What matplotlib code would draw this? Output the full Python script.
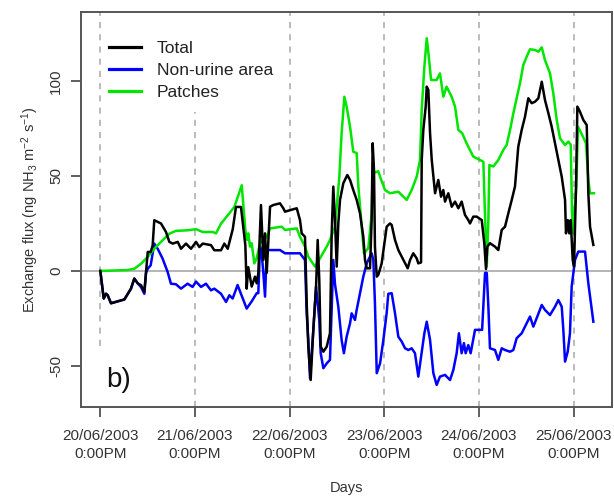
import matplotlib
matplotlib.use("Agg")
import matplotlib.pyplot as plt
import matplotlib.patches as mpatches
import numpy as np

plt.rcParams['font.family'] = ['Liberation Sans', 'DejaVu Sans']
plt.rcParams['mathtext.fontset'] = 'custom'
plt.rcParams['mathtext.rm'] = 'Liberation Sans'
plt.rcParams['mathtext.it'] = 'Liberation Sans:italic'
plt.rcParams['axes.unicode_minus'] = False

# time in days since 20/06/2003 12:00, flux in ng NH3 m-2 s-1
t_total = [0.000, 0.036, 0.060, 0.078, 0.113, 0.184, 0.254, 0.324, 0.359, 0.395, 0.430, 0.465, 0.483, 0.501,
           0.532, 0.553, 0.570, 0.641, 0.694, 0.729, 0.765, 0.818, 0.852, 0.905, 0.958, 1.011, 1.046, 1.082,
           1.169, 1.204, 1.275, 1.310, 1.346, 1.399, 1.433, 1.486, 1.532, 1.546, 1.563, 1.599, 1.634, 1.652,
           1.669, 1.697, 1.722, 1.740, 1.758, 1.793, 1.827, 1.898, 1.933, 1.951, 2.004, 2.075, 2.109, 2.127,
           2.162, 2.180, 2.197, 2.222, 2.250, 2.279, 2.296, 2.313, 2.328, 2.356, 2.392, 2.426, 2.444, 2.461,
           2.479, 2.497, 2.514, 2.532, 2.567, 2.609, 2.638, 2.672, 2.708, 2.743, 2.778, 2.796, 2.814, 2.849,
           2.866, 2.877, 2.891, 2.901, 2.920, 2.937, 2.972, 3.025, 3.060, 3.078, 3.113, 3.148, 3.184, 3.219,
           3.247, 3.272, 3.306, 3.342, 3.359, 3.388, 3.395, 3.412, 3.437, 3.448, 3.465, 3.483, 3.501, 3.536,
           3.570, 3.599, 3.623, 3.641, 3.676, 3.712, 3.747, 3.782, 3.817, 3.852, 3.887, 3.905, 3.940, 3.976,
           4.029, 4.056, 4.074, 4.088, 4.116, 4.169, 4.204, 4.240, 4.275, 4.310, 4.346, 4.380, 4.415, 4.451,
           4.486, 4.521, 4.557, 4.592, 4.627, 4.663, 4.697, 4.733, 4.768, 4.803, 4.838, 4.874, 4.909, 4.919,
           4.937, 4.954, 4.969, 4.990, 5.004, 5.025, 5.039, 5.067, 5.102, 5.138, 5.155, 5.173, 5.208]
total = [0, -14.5, -12, -12.8, -17, -16, -15, -9.3, -4, -6.5, -7.5, -11, -0.5, 10,
         10, 13.5, 26.7, 25, 20.5, 15.3, 14.4, 15.3, 11.7, 14.4, 11.7, 15.3, 12.6, 14.4,
         13.6, 10.9, 10.9, 14.4, 11.7, 22, 33.7, 33.7, 13.5, -9.3, 2, -8.2, -3, -6.5,
         -1.2, 34.7, 5.8, 19.8, -1, 33.8, 34.7, 35.6, 33, 31.2, 32, 33, 26.8, 19.8,
         18, -17, -39.8, -57.4, -31, -8.2, 16.3, -4.7, -39.8, -42.5, -39.8, -32.8, 19.8, 44.4,
         26.8, 2.3, 25, 37.4, 46.2, 50.5, 47.9, 42.6, 37.4, 30.4, 18, 5.8, 1.4, 1.4,
         26.8, 67.2, 53, 12.8, -3, -2, 4, 23.3, 25, 24.2, 16.3, 11, 7.5, 4,
         1.4, 5.8, 9.3, 6.6, 4, 4.5, 58.4, 74.2, 86.5, 97, 95.3, 72.5, 58.4, 40.9,
         47.9, 39.1, 42.6, 36.5, 40.9, 33.8, 36.5, 33, 36.5, 29.5, 26.8, 25, 28.6, 28.6,
         26.8, 14.6, 1, 12.8, 14.6, 12.8, 11, 21.6, 23.3, 30.4, 37.4, 44.4, 65.4, 74.2,
         81.2, 90.9, 88.3, 89.1, 90.9, 99.6, 90, 83, 75.9, 67.2, 58.4, 49.6, 37.4, 19.8,
         26.8, 19.8, 26.8, 5.8, 2.3, 44.4, 86.5, 83.8, 79.5, 76.8, 40.9, 23.3, 13.7]

t_nonurine = [0.000, 0.036, 0.060, 0.078, 0.113, 0.184, 0.254, 0.324, 0.359, 0.395, 0.430, 0.465, 0.483, 0.501,
              0.532, 0.570, 0.606, 0.658, 0.711, 0.746, 0.799, 0.852, 0.922, 0.975, 1.011, 1.064, 1.116, 1.169,
              1.204, 1.275, 1.328, 1.363, 1.398, 1.450, 1.486, 1.546, 1.599, 1.652, 1.669, 1.687, 1.705, 1.722,
              1.740, 1.758, 1.793, 1.898, 1.951, 2.075, 2.109, 2.162, 2.180, 2.197, 2.215, 2.250, 2.279, 2.296,
              2.313, 2.328, 2.356, 2.392, 2.426, 2.444, 2.461, 2.479, 2.514, 2.549, 2.573, 2.602, 2.638, 2.655,
              2.690, 2.708, 2.743, 2.778, 2.814, 2.866, 2.884, 2.901, 2.920, 2.955, 2.990, 3.025, 3.042, 3.078,
              3.113, 3.148, 3.184, 3.219, 3.254, 3.289, 3.324, 3.359, 3.394, 3.423, 3.448, 3.483, 3.518, 3.553,
              3.588, 3.641, 3.694, 3.729, 3.764, 3.788, 3.817, 3.841, 3.859, 3.887, 3.912, 3.958, 4.033, 4.064,
              4.082, 4.099, 4.116, 4.169, 4.204, 4.240, 4.275, 4.328, 4.363, 4.398, 4.451, 4.504, 4.539, 4.574,
              4.609, 4.663, 4.697, 4.750, 4.803, 4.838, 4.874, 4.891, 4.909, 4.937, 4.961, 4.979, 5.014, 5.049,
              5.120, 5.155, 5.208]
nonurine = [0, -14.5, -12, -12.8, -17, -16, -15, -9.3, -4, -6.5, -8.5, -12, -1, 1.2,
            3, 14.4, 11.7, 6.5, -0.5, -6.7, -7, -9.3, -6.7, -8.4, -5.6, -8.4, -6.7, -10.2,
            -9.3, -12, -16.3, -12.8, -14.5, -7.4, -12, -19.8, -16, -11.7, -11.7, 12.8, 9.3, -1.2,
            -13.5, 11, 11, 11, 9.3, 9.3, 9.3, 5.8, -22.3, -36.3, -56.5, -31, -8.2, -17,
            -25.8, -43.3, -51.2, -48.6, -46.8, -20, 5.8, -7, -18.8, -36.3, -43.3, -34.6, -27.5, -22.3,
            -25.8, -20.5, -11.7, -3, 4, 9.3, 5.8, -17, -53.8, -48.6, -36.3, -22, -12, -11.7,
            -22.3, -34.6, -37.2, -40.7, -41.6, -40.7, -43.3, -55.6, -43.3, -32.8, -26.7, -36.3, -53.8, -60,
            -55.6, -54.7, -57.4, -52.1, -43.3, -32.8, -43.3, -38, -43.3, -39, -43.3, -31, -31, -1,
            -1, -18.8, -40.7, -41.6, -46.8, -40.7, -41.6, -42.5, -41.6, -35.4, -32.8, -27.5, -24, -29.3,
            -24.9, -17.9, -20.5, -23.2, -18.8, -15.3, -18.8, -31, -47.7, -42.5, -32.8, -8.2, 5.8, 10.2,
            10.2, -6.5, -26.7]

t_patches = [0.000, 0.290, 0.361, 0.430, 0.501, 0.570, 0.659, 0.729, 0.799, 0.922, 1.011, 1.081, 1.187, 1.222,
             1.275, 1.346, 1.416, 1.494, 1.532, 1.550, 1.563, 1.581, 1.599, 1.627, 1.652, 1.687, 1.722, 1.758,
             1.793, 1.916, 1.951, 2.075, 2.109, 2.162, 2.197, 2.268, 2.321, 2.391, 2.426, 2.479, 2.525, 2.549,
             2.578, 2.602, 2.638, 2.672, 2.708, 2.726, 2.761, 2.785, 2.831, 2.866, 2.877, 2.937, 2.955, 3.007,
             3.060, 3.148, 3.201, 3.237, 3.289, 3.342, 3.377, 3.395, 3.423, 3.448, 3.466, 3.494, 3.553, 3.588,
             3.623, 3.658, 3.711, 3.747, 3.782, 3.823, 3.869, 3.940, 4.011, 4.046, 4.064, 4.082, 4.099, 4.110,
             4.152, 4.204, 4.257, 4.292, 4.328, 4.363, 4.398, 4.433, 4.468, 4.504, 4.539, 4.592, 4.627, 4.663,
             4.697, 4.750, 4.785, 4.821, 4.856, 4.909, 4.944, 4.969, 4.983, 4.995, 5.028, 5.046, 5.081, 5.130,
             5.155, 5.173, 5.215]
patches = [0, 0.5, 1.2, 3.8, 7.4, 11.7, 16.2, 19.6, 21.1, 21.4, 22, 20.5, 20.5, 19.8,
           24.9, 29.3, 33.7, 45.1, 21.6, 16.3, 19.8, 12.8, 14.6, 4, 6.7, 14.6, 16.3, 18,
           22.4, 23.3, 21.6, 22.4, 18, 12.8, 7.5, 2.3, 6.7, 12.8, 16.3, 23.3, 49.6, 72.5,
           91.7, 86.5, 75.9, 62.8, 62, 44.4, 23.3, 9.3, 12, 30, 51.4, 52.5, 49.6, 42.6,
           40.9, 41.7, 39.1, 37.4, 42.6, 49.6, 58.4, 84.7, 107.5, 122.5, 114.6, 100.5, 100.5, 104,
           91.7, 97, 91.7, 86.5, 74.2, 72.5, 67.2, 60.2, 58.4, 57.5, 28.6, 2.3, 26.8, 55.8,
           55, 58.4, 63.7, 66.3, 74.2, 83, 90.9, 98.8, 108.4, 112.8, 116.7, 116.3, 115.4, 117.7,
           111, 104, 93.5, 79.5, 69.8, 66.3, 68.1, 66.5, 30.4, 20, 44.4, 75.9, 72.5, 67.2,
           47.9, 40.9, 40.9]

day_ticks = [0, 1, 2, 3, 4, 5]
day_labels = ["20/06/2003\n0:00PM", "21/06/2003\n0:00PM", "22/06/2003\n0:00PM",
              "23/06/2003\n0:00PM", "24/06/2003\n0:00PM", "25/06/2003\n0:00PM"]

fig = plt.figure(figsize=(6.14, 4.98), dpi=100)
ax = fig.add_axes([81/614, 1 - 407/498, 531/614, 395/498])

for d in day_ticks:
    ax.axvline(d, color='#a8a8a8', lw=1.1, ls=(0, (4, 4)), zorder=1)
ax.axhline(0, color='#b4b4b4', lw=1.4, zorder=1)

# white backgrounds behind the legend and the panel letter
ax.add_patch(mpatches.Rectangle((0.041, 0.747), 0.338, 0.253, transform=ax.transAxes,
                                facecolor='white', edgecolor='none', zorder=1.5))
ax.add_patch(mpatches.Rectangle((0.008, 0.0), 0.11, 0.147, transform=ax.transAxes,
                                facecolor='white', edgecolor='none', zorder=1.5))

ax.plot(t_total, total, color='black', lw=1.8, label='Total', zorder=3)
ax.plot(t_nonurine, nonurine, color='#0000ff', lw=1.8, label='Non-urine area', zorder=2)
ax.plot(t_patches, patches, color='#00e600', lw=1.8, label='Patches', zorder=2.5)

ax.set_xlim(-0.204, 5.405)
ax.set_ylim(-71.6, 136.3)

ax.set_xticks(day_ticks)
ax.set_xticklabels(day_labels, fontsize=11, color='#333333', linespacing=1.3)
ax.set_yticks([-50, 0, 50, 100])
ax.set_yticklabels(['-50', '0', '50', '100'], fontsize=11, color='#333333',
                   rotation=90, va='center')
ax.tick_params(axis='both', length=7, width=1.2, color='#444444', pad=6)
ax.tick_params(axis='x', pad=9)
for s in ax.spines.values():
    s.set_color('#555555')
    s.set_linewidth(1.4)

ax.set_xlabel('Days', fontsize=10.5, color='#333333', labelpad=15)
ax.set_ylabel(r'Exchange flux (ng NH$_3$ m$^{-2}$ s$^{-1}$)', fontsize=10.5,
              color='#333333', labelpad=6)

leg = ax.legend(loc='upper left', bbox_to_anchor=(0.0527, 0.926), frameon=False,
                fontsize=12.5, handlelength=1.85, handletextpad=0.9, labelspacing=0.38,
                borderpad=0, borderaxespad=0)
for h in leg.get_lines():
    h.set_linewidth(2.3)
for tx in leg.get_texts():
    tx.set_color('#222222')

ax.text(0.070, 0.068, 'b)', transform=ax.transAxes, fontsize=20, color='#111111',
        ha='center', va='center')

fig.savefig('out.png', dpi=100)
